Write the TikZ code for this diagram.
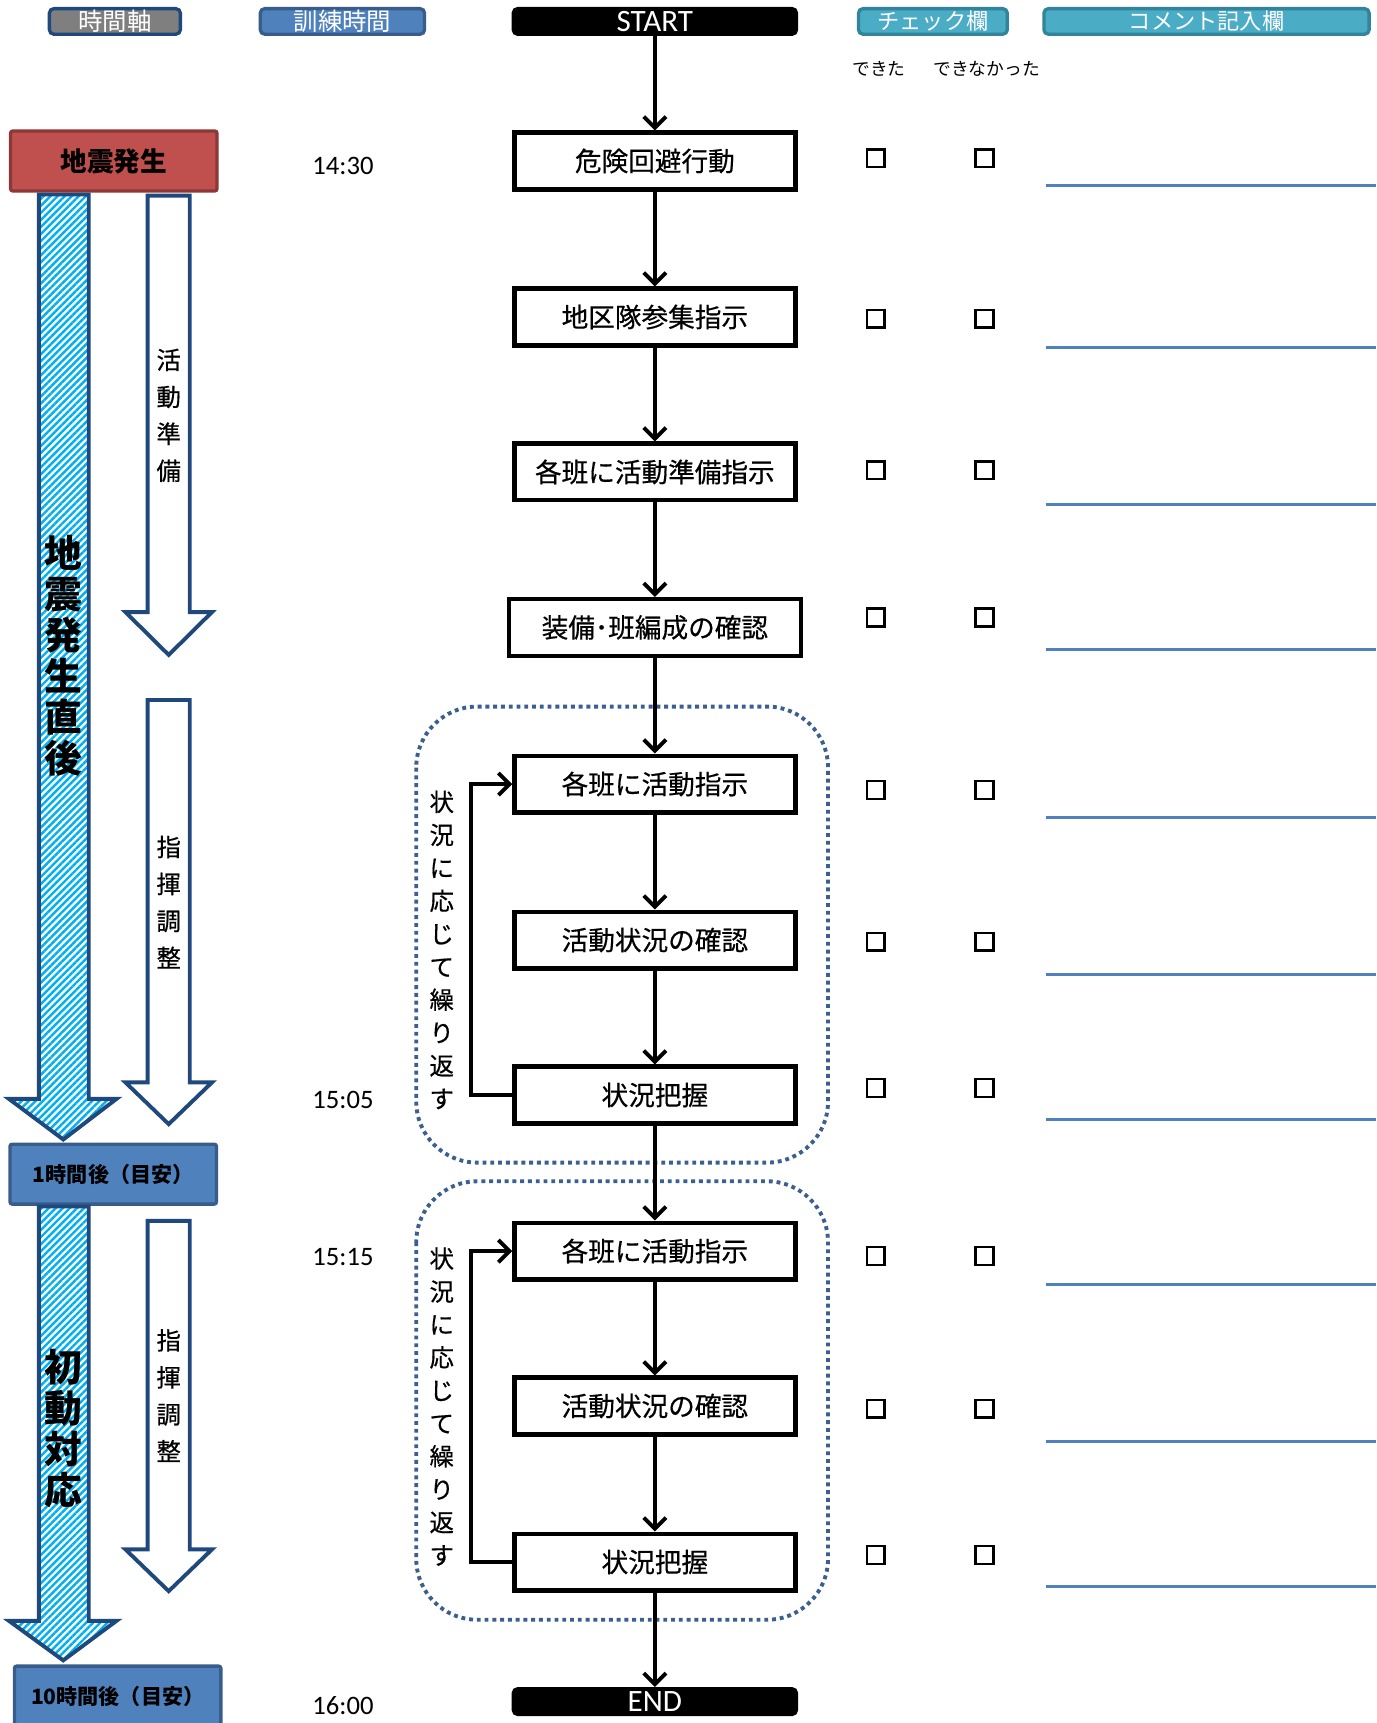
\documentclass[tikz,border=0pt]{standalone}
\usepackage{fontspec}
\setmainfont{Carlito}
\newfontfamily\jp{Noto Sans CJK JP}
\newfontfamily\jpm{Noto Sans CJK JP}[FakeBold=0.5]
\usetikzlibrary{arrows.meta,patterns.meta}
\definecolor{navy}{HTML}{1F497D}
\definecolor{bfill}{HTML}{4F81BD}
\definecolor{bdraw}{HTML}{385D8A}
\definecolor{rfill}{HTML}{C0504D}
\definecolor{rdraw}{HTML}{8C3836}
\definecolor{tfill}{HTML}{4BACC6}
\definecolor{tdraw}{HTML}{31849B}
\definecolor{hatchc}{HTML}{00B0F0}
\definecolor{dotc}{HTML}{3B5F8E}
\definecolor{grayf}{HTML}{7F7F7F}
\begin{document}
\begin{tikzpicture}[x=1pt,y=-0.99pt,
  hdr/.style={rounded corners=4pt, line width=3pt, minimum height=23pt, inner sep=0pt, text=white, font=\jp\fontsize{22}{22}\selectfont},
  flowbox/.style={draw, line width=4pt, minimum width=253pt, minimum height=51pt, inner sep=0pt, font=\jpm\fontsize{24}{24}\selectfont},
  term/.style={fill=black, rounded corners=5pt, minimum width=258pt, minimum height=26pt, inner sep=0pt, text=white, font=\fontsize{28}{28}\selectfont},
  flow/.style={line width=3.5pt, -{Straight Barb[length=10pt,width=20pt]}},
  grp/.style={draw=dotc, line width=3.5pt, dash pattern=on 3.5pt off 3.5pt, rounded corners=55pt},
  chk/.style={draw, line width=2.2pt, minimum size=16pt, inner sep=0pt},
  cline/.style={draw=bfill, line width=3pt},
  timel/.style={inner sep=0pt, font=\fontsize{24}{24}\selectfont},
  small/.style={inner sep=0pt, font=\jp\fontsize{16}{16}\selectfont},
  vtext/.style={align=center, inner sep=0pt, font=\jpm\fontsize{22}{33.3}\selectfont},
  rtext/.style={align=center, inner sep=0pt, font=\jpm\fontsize{22}{29.7}\selectfont},
  bigv/.style={align=center, inner sep=0pt, font=\jp\bfseries\fontsize{34}{37}\selectfont},
  hatcharrow/.style={draw=navy, line width=3.5pt, line join=miter, pattern={Lines[angle=45,distance=4.5pt,line width=2.2pt]}, pattern color=hatchc},
  whitearrow/.style={draw=navy, line width=3.5pt, fill=white, line join=miter},
  lbox/.style={line width=3pt, minimum width=186pt, minimum height=54pt, inner sep=0pt, rounded corners=2pt, font=\jp\bfseries\fontsize{19}{19}\selectfont}
]
\useasboundingbox (0,0) rectangle (1240,1568);
\fill[white] (0,0) rectangle (1240,1568);

% headers
\node[hdr, fill=grayf, draw=navy, minimum width=118pt] (h1) at (103.5,19.5) {時間軸};
\node[hdr, fill=bfill, draw=bdraw, minimum width=148pt] (h2) at (308.5,19.5) {訓練時間};
\node[term] (start) at (590,19.5) {START};
\node[hdr, fill=tfill, draw=tdraw, minimum width=134pt, font=\jp\fontsize{20}{20}\selectfont] (h4) at (840.5,19.5) {チェック欄};
\node[hdr, fill=tfill, draw=tdraw, minimum width=293pt, font=\jp\fontsize{20}{20}\selectfont] (h5) at (1087,19.5) {コメント記入欄};

\node[small] (ok) at (792,63) {できた};
\node[small] (ng) at (889,63) {できなかった};

% left column
\node[lbox, fill=rfill, draw=rdraw, font=\jp\bfseries\fontsize{24}{24}\selectfont] (eq) at (102.5,146.5) {地震発生};
\draw[hatcharrow] (35,177) -- (80,177) -- (80,1000) -- (105,1000) -- (57,1037) -- (8,1000) -- (35,1000) -- cycle;
\node[bigv] (t1) at (57,597) {地\\震\\発\\生\\直\\後};
\draw[whitearrow] (133,178) -- (171,178) -- (171,557) -- (191,557) -- (152,596) -- (113,557) -- (133,557) -- cycle;
\node[vtext] (v1) at (152,378) {活\\動\\準\\備};
\draw[whitearrow] (133,637) -- (171,637) -- (171,985) -- (191,985) -- (152,1023) -- (113,985) -- (133,985) -- cycle;
\node[vtext] (v2) at (152,821) {指\\揮\\調\\整};
\node[lbox, fill=bfill, draw=bdraw] (h1a) at (102,1068.5) {1時間後（目安）};
\draw[hatcharrow] (35,1098) -- (80,1098) -- (80,1475) -- (105,1475) -- (57,1511) -- (8,1475) -- (35,1475) -- cycle;
\node[bigv] (t2) at (57,1300) {初\\動\\対\\応};
\draw[whitearrow] (133,1111) -- (171,1111) -- (171,1410) -- (191,1410) -- (152,1448) -- (113,1410) -- (133,1410) -- cycle;
\node[vtext] (v3) at (152,1270) {指\\揮\\調\\整};
\node[lbox, fill=bfill, draw=bdraw] (h10) at (106,1543.5) {10時間後（目安）};

% times
\node[timel] (tm1) at (309,151) {14:30};
\node[timel] (tm2) at (309,1001) {15:05};
\node[timel] (tm3) at (309,1144) {15:15};
\node[timel] (tm4) at (309,1552) {16:00};

% groups
\draw[grp] (375,643) rectangle (746,1058);
\draw[grp] (375,1075) rectangle (746,1474);
\node[rtext] (r1) at (398,864.5) {状\\況\\に\\応\\じ\\て\\繰\\り\\返\\す};
\node[rtext] (r2) at (398,1280) {状\\況\\に\\応\\じ\\て\\繰\\り\\返\\す};

% flow boxes
\node[flowbox] (b1) at (590,146.5) {危険回避行動};
\node[flowbox] (b2) at (590,288.5) {地区隊参集指示};
\node[flowbox] (b3) at (590,429.5) {各班に活動準備指示};
\node[flowbox, minimum width=263pt] (b4) at (590,571) {装備･班編成の確認};
\node[flowbox] (b5) at (590,713.5) {各班に活動指示};
\node[flowbox] (b6) at (590,855.5) {活動状況の確認};
\node[flowbox] (b7) at (590,996.5) {状況把握};
\node[flowbox] (b8) at (590,1138.5) {各班に活動指示};
\node[flowbox] (b9) at (590,1279.5) {活動状況の確認};
\node[flowbox] (b10) at (590,1421.5) {状況把握};
\node[term] (end) at (590,1548.5) {END};

\draw[flow] (start.south) -- (b1.north);
\draw[flow] (b1.south) -- (b2.north);
\draw[flow] (b2.south) -- (b3.north);
\draw[flow] (b3.south) -- (b4.north);
\draw[flow] (b4.south) -- (b5.north);
\draw[flow] (b5.south) -- (b6.north);
\draw[flow] (b6.south) -- (b7.north);
\draw[flow] (b7.south) -- (b8.north);
\draw[flow] (b8.south) -- (b9.north);
\draw[flow] (b9.south) -- (b10.north);
\draw[flow] (b10.south) -- (end.north);
\draw[flow] (b7.west) -- ++(-37,0) |- (b5.west);
\draw[flow] (b10.west) -- ++(-37,0) |- (b8.west);

% check boxes and comment lines
\foreach \yc/\yl [count=\i] in {144/169,290/316,428/459,562/591,719/744,857/887,990/1019,1143/1169,1282/1312,1415/1444}{
  \node[chk] (ca\i) at (789,\yc) {};
  \node[chk] (cb\i) at (887,\yc) {};
  \draw[cline] (942,\yl) -- (1240,\yl);
}
\end{tikzpicture}
\end{document}
